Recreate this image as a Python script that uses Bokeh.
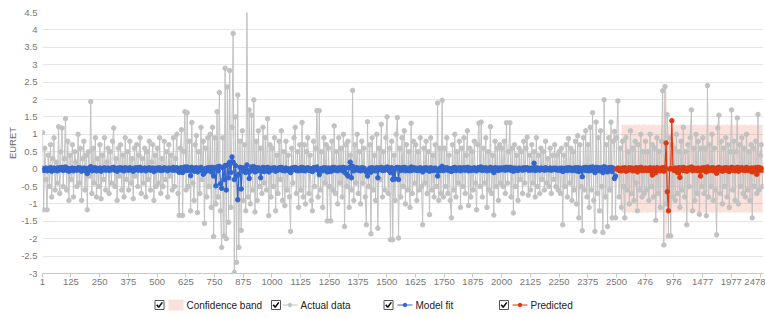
from bokeh.plotting import figure
from bokeh.models import Range1d, FixedTicker
from bokeh.layouts import column
from bokeh.embed import file_html
from bokeh.resources import INLINE
from bokeh.core.properties import value

# ---------------- data ----------------
# sampled every STEP index units, starting at index 1
STEP = 5

actual = [
    1.05, -1.17, 0.6, -0.3, -1.17, 0.4, -0.5, 0.7, -0.8, 0.3, 0.9, -0.6, 0.2, -0.4, 1.22, -0.7, 0.5, 1.18, -0.5, 0.3, 1.45, -0.6, 0.8, -0.9, 0.4,
    -0.3, 0.7, -0.8, 0.5, 0.2, -0.5, 1.0, -0.4, 0.6, -0.9, 0.3, 0.8, -0.6, 0.4, -1.17, 0.5, -0.2, 1.94, -0.7, 0.6, -0.4, 0.9, -0.8, 0.3, -0.5,
    0.7, -0.85, 0.4, -0.3, 0.9, -0.6, 0.2, 0.6, -0.7, 0.5, -0.4, 0.8, 1.18, -0.5, 0.3, -0.9, 0.6, -0.2, 0.7, -0.6, 0.4, -0.8, 0.9, -0.3, 0.5,
    -0.6, 0.8, -0.4, 0.3, -0.85, 0.6, -0.2, 0.7, -0.5, 0.4, 0.9, -0.7, 0.3, -0.4, 0.6, -0.8, 0.5, -0.3, 0.8, -0.6, 0.2, 0.7, -0.9, 0.4, -0.5,
    0.6, -0.4, 0.9, -0.7, 0.3, -0.5, 0.8, -0.3, 0.5, -0.8, 0.7, -0.2, 0.4, -0.6, 0.9, -0.5, 0.3, 1.0, -0.7, -1.33, 0.6, 1.13, -1.33, 0.5, 1.65,
    -0.6, 1.62, -0.5, 0.8, -1.2, 1.34, -0.4, -0.9, 0.7, 0.96, -1.25, 0.5, -0.7, 1.2, -0.3, 0.8, -1.56, 0.6, -0.8, 0.9, -0.5, 1.0, -1.1, 1.2, -1.94,
    0.9, -1.0, 1.65, -0.8, 2.2, -1.2, -2.25, 0.9, -1.92, 2.9, -2.0, 2.36, -1.53, 2.83, -1.1, 1.2, 3.9, -2.97, 1.5, -2.68, 2.13, -2.25, 0.8, -1.76, 1.1,
    -0.9, 0.7, -1.2, 4.63, -0.8, 1.7, -1.0, 1.55, -0.6, 1.99, -1.23, 0.8, -0.9, 1.1, -0.5, 0.6, -0.7, 1.2, -0.4, 0.9, -0.6, 1.45, -1.34, 0.7, -0.8,
    0.6, -0.5, 0.9, -1.2, 0.4, -0.7, 0.8, -0.3, 1.1, -0.9, 0.5, -1.05, 0.8, -0.6, 0.4, -0.8, -1.79, 0.6, -0.4, 0.9, 1.2, -0.7, 0.5, -1.1, 0.7,
    -0.6, 1.34, -0.8, 0.7, -1.0, 0.5, 0.9, -0.7, 0.4, -0.9, -1.2, 0.8, -0.5, 0.6, 1.68, -0.8, 1.68, -0.6, 0.5, -1.1, 0.9, -0.4, 0.7, -1.49, 0.6,
    -0.5, -1.49, 0.8, -0.6, 1.24, -0.7, 0.5, -1.0, 0.9, -0.4, 0.6, -0.8, 1.0, -1.65, 0.7, -0.5, 0.8, -1.1, 0.4, -0.6, 2.26, -0.9, 0.7, -0.4, 1.0,
    -0.7, 0.5, -1.0, 0.8, -0.4, 0.6, -0.8, -1.6, 1.36, -0.5, 0.7, -1.86, 0.9, -0.6, 0.4, -0.9, 1.0, -1.7, 0.6, -0.3, 1.29, -0.8, 0.5, -0.6, 0.9,
    1.5, -0.7, 0.6, -2.03, 0.8, -2.03, 0.4, -0.9, 1.0, 1.48, -1.98, 0.6, -0.8, 0.9, -0.5, 1.1, -1.0, 0.7, -0.6, 0.5, -1.1, 1.32, -0.7, 0.8, -0.4,
    0.7, -0.9, 0.5, -0.6, 0.9, -0.5, -1.6, 0.6, -0.4, 0.8, -0.7, 0.5, -1.31, 0.9, -0.6, 0.4, -0.8, 0.7, -0.5, 1.9, -0.9, 0.6, -0.7, 1.98, -0.8,
    0.6, -0.5, 0.9, -0.7, 0.4, -0.9, -1.4, 0.7, -0.6, 1.0, -0.8, 0.5, -0.4, 0.8, -1.1, 0.6, -0.5, 0.9, -0.7, 0.4, 1.1, -1.05, 0.6, -0.8, 0.5,
    -0.6, 0.8, -0.4, -1.17, 0.7, 1.32, -0.5, 1.35, -0.8, 0.6, -0.4, 0.9, -1.1, 0.5, -0.6, 1.22, -0.7, 0.4, -1.32, 0.8, -0.5, 0.6, -0.9, 0.7, -0.4,
    0.6, -0.5, 0.8, -0.7, 1.33, -0.4, 0.5, 1.33, -0.8, 0.6, -1.26, 0.7, -0.5, 0.4, -0.9, 0.6, -0.3, 0.5, -0.7, 0.8, -0.4, 0.6, 0.92, -0.75, 0.4,
    -0.6, 0.7, -0.4, 0.5, -0.8, 0.9, -0.5, 0.4, -0.7, 0.6, -0.3, 0.5, -0.6, 0.8, -0.4, 0.3, -0.5, 0.6, -0.7, 0.4, -0.3, 0.7, -0.5, 0.4, -0.6,
    0.5, -0.7, 0.6, -1.6, 0.4, -0.5, 0.7, -0.8, 0.88, -0.4, 0.6, -0.9, 0.5, -0.6, 0.8, -1.0, 0.96, -1.4, 0.7, -0.5, -1.77, 0.9, -0.6, 1.1, -0.8,
    0.7, -1.1, 1.2, -0.6, 1.62, -0.9, -1.79, 1.35, -0.7, 0.9, -1.2, 1.1, -0.5, -1.82, 1.99, -0.8, 0.7, -1.65, 0.9, -0.6, 1.35, -1.4, 0.8, 1.08, -1.4,
    0.9, 1.96, -0.8, 0.6, -1.1, 0.8, -0.5, -1.4, 0.9, -0.6, 0.5, -1.0, 1.1, -0.7, 0.6, -0.9, 0.8, -0.4, -1.2, 0.7, -0.6, 1.0, -0.8, 0.5, -0.7,
    0.8, -0.6, 0.5, -0.9, 1.0, -0.5, 0.7, -0.8, 0.6, -1.47, 0.9, -0.7, 0.5, -1.1, 0.8, 2.25, -2.18, 2.37, -1.0, 1.56, -1.92, 0.9, -1.92, 0.7, -0.8,
    0.6, -0.9, 1.0, -0.7, 0.5, -1.1, 0.8, -0.6, 1.2, -0.8, 0.5, -1.6, 0.7, -0.5, 0.9, 1.7, -1.2, 0.6, -0.9, 1.0, -0.7, 0.8, -1.3, 0.6, -0.5,
    0.9, -0.7, 0.6, -1.34, 2.4, -0.8, 0.7, -0.5, 1.0, -0.9, 0.6, -0.6, -1.89, 1.18, 1.55, -0.7, 0.8, -1.0, 0.6, -0.5, 0.9, -0.8, 0.7, -1.1, 0.5,
    1.7, -0.6, 0.8, -0.9, 0.5, 1.47, -1.0, 0.7, -0.5, 0.9, -0.7, 0.6, -0.8, 1.0, -0.6, 0.5, -0.9, 0.7, -1.4, 0.6, -0.5, 0.8, -0.7, 1.57, -0.6, 0.4,
    0.7, -0.5,
]

model_fit = [
    0.02, -0.04, 0.01, 0.03, -0.05, 0.02, -0.02, 0.04, -0.06, 0.01, 0.03, -0.03, 0.02, -0.05, 0.04, -0.02, 0.01, 0.05, -0.04, 0.02, 0.06, -0.03, 0.02, -0.06, 0.01,
    -0.02, 0.03, -0.05, 0.02, 0.01, -0.03, 0.04, -0.02, 0.03, -0.06, 0.01, 0.03, -0.04, 0.02, -0.13, 0.02, -0.01, 0.07, -0.05, 0.03, -0.02, 0.04, -0.05, 0.01, -0.03,
    0.03, -0.06, 0.02, -0.01, 0.04, -0.03, 0.01, 0.03, -0.04, 0.02, -0.02, 0.04, 0.05, -0.03, 0.01, -0.06, 0.03, -0.01, 0.04, -0.03, 0.02, -0.05, 0.04, -0.02, 0.02,
    -0.03, 0.04, -0.02, 0.01, -0.06, 0.03, -0.01, 0.04, -0.03, 0.02, 0.05, -0.04, 0.01, -0.02, 0.03, -0.05, 0.02, -0.01, 0.04, -0.03, 0.01, 0.03, -0.07, 0.02, -0.03,
    0.03, -0.02, 0.04, -0.04, 0.01, -0.03, 0.04, -0.01, 0.02, -0.05, 0.03, -0.01, 0.02, -0.03, 0.05, -0.03, 0.01, 0.04, -0.05, -0.09, 0.03, 0.04, -0.1, 0.02, 0.06,
    -0.04, 0.06, -0.03, 0.03, -0.19, 0.05, -0.02, -0.06, 0.03, 0.04, -0.08, 0.02, -0.04, 0.05, -0.01, -0.15, -0.1, 0.02, -0.05, 0.04, -0.03, 0.04, -0.08, 0.05, -0.2,
    0.03, -0.48, 0.06, -0.05, 0.08, -0.42, -0.55, 0.04, -0.3, 0.1, -0.6, 0.12, -0.25, 0.2, -0.1, 0.35, 0.2, -0.3, 0.1, -0.2, -0.88, -0.15, 0.05, -0.57, 0.04,
    -0.06, 0.03, -0.1, 0.12, -0.05, -0.27, -0.06, 0.06, -0.03, 0.07, -0.08, 0.03, -0.05, 0.04, -0.02, -0.25, -0.05, 0.05, -0.07, 0.03, -0.04, 0.05, -0.08, 0.02, -0.03,
    0.03, -0.02, 0.04, -0.06, 0.01, -0.03, 0.04, -0.01, 0.05, -0.04, 0.02, -0.05, 0.03, -0.03, 0.01, -0.04, -0.1, 0.03, -0.02, 0.04, 0.05, -0.04, 0.02, -0.05, 0.03,
    -0.03, 0.05, -0.04, 0.03, -0.05, 0.02, 0.04, -0.03, 0.02, -0.04, -0.07, 0.04, -0.02, 0.03, 0.06, -0.04, -0.16, -0.03, 0.02, -0.05, 0.04, -0.02, 0.03, -0.08, 0.03,
    -0.02, -0.07, 0.04, -0.03, 0.05, -0.03, 0.02, -0.05, 0.04, -0.02, 0.03, -0.04, 0.05, -0.09, 0.03, -0.15, -0.2, 0.04, 0.2, -0.25, 0.08, -0.05, 0.03, -0.02, 0.04,
    -0.03, 0.02, -0.05, 0.04, -0.02, 0.03, -0.04, -0.08, -0.2, -0.02, 0.03, -0.09, 0.04, -0.03, 0.02, -0.05, 0.04, -0.25, 0.03, -0.01, 0.05, -0.04, 0.02, -0.03, 0.04,
    0.06, -0.03, 0.03, -0.1, 0.04, -0.3, -0.05, -0.28, 0.04, 0.05, -0.3, 0.03, -0.04, 0.04, -0.02, 0.05, -0.05, 0.03, -0.03, 0.02, -0.05, 0.06, -0.03, 0.04, -0.02,
    0.03, -0.04, 0.02, -0.03, 0.04, -0.02, -0.08, 0.03, -0.02, 0.04, -0.03, 0.02, -0.06, 0.04, -0.03, 0.02, -0.04, 0.03, -0.02, -0.2, -0.05, 0.03, -0.03, 0.08, -0.04,
    0.03, -0.02, 0.04, -0.03, 0.02, -0.04, -0.07, 0.03, -0.03, 0.05, -0.04, 0.02, -0.02, 0.04, -0.05, 0.03, -0.02, 0.04, -0.03, 0.02, 0.05, -0.05, 0.03, -0.04, 0.02,
    -0.03, 0.04, -0.02, -0.05, 0.03, 0.05, -0.02, 0.06, -0.04, 0.03, -0.02, 0.04, -0.05, 0.02, -0.03, 0.05, -0.03, 0.02, -0.1, 0.04, -0.02, 0.03, -0.04, 0.03, -0.02,
    0.03, -0.02, 0.04, -0.03, 0.05, -0.02, 0.02, 0.05, -0.04, 0.03, -0.06, 0.03, -0.02, 0.02, -0.04, 0.03, -0.01, 0.02, -0.03, 0.04, -0.02, 0.03, 0.04, -0.03, 0.02,
    -0.03, 0.03, -0.02, 0.17, -0.04, 0.04, -0.02, 0.02, -0.03, 0.03, -0.01, 0.02, -0.03, 0.04, -0.02, 0.01, -0.02, 0.03, -0.03, 0.02, -0.01, 0.03, -0.02, 0.02, -0.03,
    0.02, -0.03, 0.03, -0.07, 0.02, -0.02, 0.03, -0.04, 0.04, -0.02, 0.03, -0.04, 0.02, -0.03, 0.04, -0.05, 0.04, -0.07, 0.03, -0.03, -0.22, 0.04, -0.03, 0.05, -0.04,
    0.03, -0.05, 0.05, -0.03, 0.06, -0.04, -0.1, 0.05, -0.03, 0.04, -0.05, 0.04, -0.02, -0.1, 0.07, -0.04, 0.03, -0.08, 0.04, -0.03, 0.05, -0.07, 0.03, -0.27, -0.2,
]

predicted = [
    0.0, 0.03, -0.04, 0.02, -0.05, 0.03, -0.02, 0.04, -0.06, 0.02, -0.03, 0.04, -0.02, 0.03, -0.05, 0.02, -0.03, 0.04, -0.08, 0.03, -0.02, 0.05, -0.04, 0.02, -0.03,
    0.03, -0.04, 0.02, -0.03, 0.04, -0.06, -0.17, 0.03, -0.02, -0.1, 0.04, -0.03, 0.02, -0.05, 0.03, 0.04, -0.06, 0.05, 0.75, -0.65, -1.2, 0.0, 0.02, 1.39, 0.0,
    -0.04, 0.03, -0.02, -0.1, 0.04, -0.24, 0.03, -0.03, 0.05, -0.04, 0.02, -0.06, 0.03, -0.02, 0.04, 0.06, -0.05, 0.03, -0.03, 0.02, -0.04, 0.03, -0.05, -0.2, 0.03,
    -0.03, 0.04, -0.02, -0.08, 0.06, -0.04, 0.02, -0.03, 0.04, -0.05, 0.03, -0.02, -0.12, 0.04, 0.05, -0.03, 0.02, -0.06, 0.03, -0.02, 0.04, -0.04, 0.03, -0.07, 0.02,
    0.05, -0.03, 0.03, -0.05, 0.02, 0.05, -0.06, 0.03, -0.02, 0.04, -0.03, 0.02, -0.04, 0.05, -0.03, 0.02, -0.05, 0.03, -0.08, 0.03, -0.02, 0.04, -0.15, 0.05, -0.04, 0.03,
    0.02, -0.03,
]

band_start = 504  # sample number where the confidence band begins
band_upper = [
    1.27, 1.29, 1.26, 1.28, 1.25, 1.3, 1.27, 1.26, 1.29, 1.28, 1.25, 1.27, 1.3, 1.26, 1.28, 1.27, 1.29, 1.25, 1.28, 1.26,
    1.3, 1.27, 1.28, 1.25, 1.29, 1.26, 1.28, 1.27, 1.3, 1.26, 1.28, 1.25, 1.29, 1.27, 1.28, 1.26, 1.29, 1.27, 1.28, 2.62,
    1.27, 1.29, 1.26, 1.28, 1.3, 1.25, 1.28, 1.27, 1.29, 1.26, 1.28, 1.27, 1.3, 1.25, 1.28, 1.26, 1.29, 1.27, 1.28, 1.26,
    1.29, 1.27, 1.25, 1.28, 1.3, 1.26, 1.28, 1.27, 1.29, 1.25, 1.28, 1.27, 1.26, 1.3, 1.28, 1.27, 1.29, 1.26, 1.28, 1.25,
    1.27, 1.29, 1.26, 1.28, 1.3, 1.27, 1.25, 1.28, 1.29, 1.26, 1.28, 1.27, 1.3, 1.26, 1.28, 1.25, 1.29, 1.27, 1.28, 1.26,
    1.29, 1.27, 1.28, 1.25, 1.3, 1.26, 1.28, 1.27, 1.29, 1.26, 1.28, 1.25, 1.27, 1.3, 1.26, 1.28, 1.27, 1.29, 1.26, 1.28,
    1.27, 1.29, 1.26, 1.28,
]
band_lower = [
    -1.25, -1.23, -1.27, -1.24, -1.26, -1.22, -1.25, -1.27, -1.23, -1.24, -1.26, -1.25, -1.22, -1.26, -1.24, -1.25, -1.23, -1.27, -1.24, -1.26,
    -1.22, -1.25, -1.24, -1.27, -1.23, -1.26, -1.24, -1.25, -1.22, -1.26, -1.24, -1.27, -1.23, -1.25, -1.24, -1.26, -1.23, -1.25, -1.24, -2.43,
    -1.25, -1.23, -1.26, -1.24, -1.22, -1.27, -1.24, -1.25, -1.23, -1.26, -1.24, -1.25, -1.22, -1.27, -1.24, -1.26, -1.23, -1.25, -1.24, -1.26,
    -1.23, -1.25, -1.27, -1.24, -1.22, -1.26, -1.24, -1.25, -1.23, -1.27, -1.24, -1.25, -1.26, -1.22, -1.24, -1.25, -1.23, -1.26, -1.24, -1.27,
    -1.25, -1.23, -1.26, -1.24, -1.22, -1.25, -1.27, -1.24, -1.23, -1.26, -1.24, -1.25, -1.22, -1.26, -1.24, -1.27, -1.23, -1.25, -1.24, -1.26,
    -1.23, -1.25, -1.24, -1.27, -1.22, -1.26, -1.24, -1.25, -1.23, -1.26, -1.24, -1.27, -1.25, -1.22, -1.26, -1.24, -1.25, -1.23, -1.26, -1.24,
    -1.25, -1.23, -1.26, -1.24,
]

x_ticks = [1, 125, 250, 375, 500, 625, 750, 875, 1000, 1125, 1250, 1375, 1500, 1625, 1750,
           1875, 2000, 2125, 2250, 2375, 2500, 2625, 2750, 2875, 3000, 3125]
x_tick_labels = ["1", "125", "250", "375", "500", "625", "750", "875", "1000", "1125", "1250",
                 "1375", "1500", "1625", "1750", "1875", "2000", "2125", "2250", "2375", "2500",
                 "476", "976", "1477", "1977", "2478"]
y_ticks = [-3, -2.5, -2, -1.5, -1, -0.5, 0, 0.5, 1, 1.5, 2, 2.5, 3, 3.5, 4, 4.5]
y_tick_labels = ["-3", "-2.5", "-2", "-1.5", "-1", "-0.5", "0", "0.5", "1", "1.5", "2",
                 "2.5", "3", "3.5", "4", "4.5"]
legend_labels = ["Confidence band", "Actual data", "Model fit", "Predicted"]

# ---------------- styling ----------------
GRAY = "#c2c2c2"
BLUE = "#3366cc"
RED = "#dc3912"
BAND = "#dc3912"
FONT = "Liberation Sans"
FRAME_L, FRAME_R = 42, 763

x_all = [1 + STEP * i for i in range(len(actual))]
x_fit = x_all[:len(model_fit)]
x_pred = x_all[len(model_fit):len(model_fit) + len(predicted)]
x_band = x_all[band_start:band_start + len(band_upper)]

p = figure(width=765, height=296, x_range=Range1d(1, 3140), y_range=Range1d(-3, 4.5),
           output_backend="svg", toolbar_location=None,
           min_border_left=FRAME_L, min_border_right=765 - FRAME_R, min_border_top=12, min_border_bottom=23)
p.outline_line_color = None
p.background_fill_color = "white"
p.xgrid.visible = False
p.ygrid.grid_line_color = "#e6e6e6"

p.xaxis.ticker = FixedTicker(ticks=x_ticks)
p.xaxis.major_label_overrides = {t: l for t, l in zip(x_ticks, x_tick_labels)}
p.xaxis.axis_line_color = "#c8c8c8"
p.xaxis.major_tick_line_color = "#c8c8c8"
p.xaxis.major_tick_out = 4
p.xaxis.major_tick_in = 0
p.xaxis.minor_tick_line_color = None
p.xaxis.major_label_standoff = 1
p.xaxis.major_label_text_font = FONT
p.xaxis.major_label_text_font_size = "9.5px"
p.xaxis.major_label_text_color = "#777777"

p.yaxis.ticker = FixedTicker(ticks=y_ticks)
p.yaxis.major_label_overrides = {t: l for t, l in zip(y_ticks, y_tick_labels)}
p.yaxis.axis_line_color = None
p.yaxis.major_tick_line_color = None
p.yaxis.minor_tick_line_color = None
p.yaxis.major_tick_out = 0
p.yaxis.major_label_standoff = 5
p.yaxis.major_label_text_font = FONT
p.yaxis.major_label_text_font_size = "9.5px"
p.yaxis.major_label_text_color = "#777777"
p.yaxis.axis_label = "EURET"
p.yaxis.axis_label_standoff = 0
p.yaxis.axis_label_text_font = FONT
p.yaxis.axis_label_text_font_size = "9.5px"
p.yaxis.axis_label_text_font_style = "normal"
p.yaxis.axis_label_text_color = "#666666"

p.varea(x=x_band, y1=band_lower, y2=band_upper, fill_color=BAND, fill_alpha=0.15)
p.line(x_all, actual, line_color=GRAY, line_width=1)
p.scatter(x_all, actual, size=4.5, fill_color=GRAY, line_color=GRAY, line_width=1)
p.line(x_fit, model_fit, line_color=BLUE, line_width=1.2)
p.scatter(x_fit, model_fit, size=4.5, fill_color=BLUE, line_color=BLUE, line_width=1)
p.line(x_pred, predicted, line_color=RED, line_width=1.2)
p.scatter(x_pred, predicted, size=4.5, fill_color=RED, line_color=RED, line_width=1)

# ---------------- legend strip (frame aligned with the plot; x in page pixels) ----------------
leg = figure(width=765, height=22, x_range=Range1d(FRAME_L, FRAME_R), y_range=Range1d(22, 0),
             output_backend="svg", toolbar_location=None,
             x_axis_type=None, y_axis_type=None,
             min_border_left=FRAME_L, min_border_right=765 - FRAME_R, min_border_top=0, min_border_bottom=0)
leg.outline_line_color = None
leg.grid.visible = False

cy = 8.5
box_x = [159, 275.5, 388, 503.5]
leg.rect(x=box_x, y=[cy] * 4, width=9, height=9, fill_color="white", line_color="#555555", line_width=1)
leg.multi_line(xs=[[bx - 2.8, bx - 0.8, bx + 2.8] for bx in box_x],
               ys=[[cy - 0.3, cy + 2.3, cy - 2.6] for _ in box_x],
               line_color="#111111", line_width=1.6)
leg.rect(x=[175.5], y=[cy], width=15, height=11, fill_color=BAND, fill_alpha=0.15, line_color=None)
sw_x = [289.5, 404.5, 519.5]
sw_col = [GRAY, BLUE, RED]
leg.segment(x0=[s - 7.5 for s in sw_x], y0=[cy] * 3, x1=[s + 7.5 for s in sw_x], y1=[cy] * 3,
            line_color=sw_col, line_width=1)
leg.scatter(x=sw_x, y=[cy] * 3, size=3.5, fill_color=sw_col, line_color=sw_col)
leg.text(x=[186, 300, 415, 530], y=[cy] * 4, text=legend_labels,
         text_font=value(FONT), text_font_size="10px", text_baseline="middle",
         text_color="#222222")

layout = column(p, leg, spacing=0)
open("out.html", "w").write(file_html(layout, INLINE))
